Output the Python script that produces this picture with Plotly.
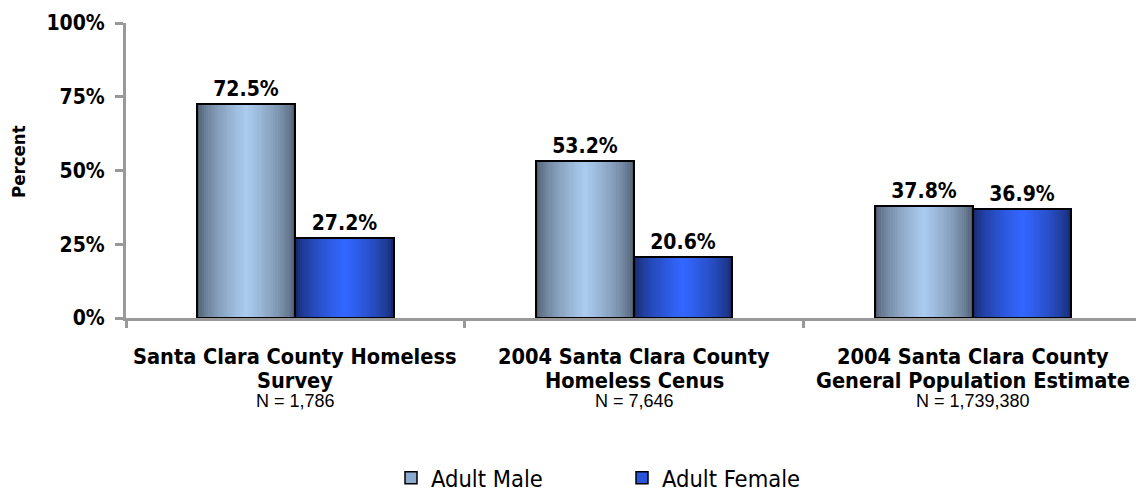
import plotly.graph_objects as go

categories = ["Santa Clara County Homeless Survey",
              "2004 Santa Clara County Homeless Cenus",
              "2004 Santa Clara County General Population Estimate"]
label_line1 = ["Santa Clara County Homeless", "2004 Santa Clara County", "2004 Santa Clara County"]
label_line2 = ["Survey", "Homeless Cenus", "General Population Estimate"]
n_labels = ["N = 1,786", "N = 7,646", "N = 1,739,380"]
series_names = ["Adult Male", "Adult Female"]
male = [72.5, 53.2, 37.8]
female = [27.2, 20.6, 36.9]
y_ticks = [0, 25, 50, 75, 100]
y_ticktext = ["0%", "25%", "50%", "75%", "100%"]

BOLD = "DejaVu Sans Condensed"
W = 0.29
NL = 22
CAT_PX = 338.75
PLOT_L = 126
PLOT_W = 1136 - PLOT_L

def rgb(c):
    return "rgb(%d,%d,%d)" % tuple(round(v) for v in c)

def lerp(c1, c2, t):
    return rgb([a + (b - a) * t for a, b in zip(c1, c2)])

grad = {
    "Adult Male": ((76, 90, 108), (170, 202, 238), (140, 170, 205)),
    "Adult Female": ((22, 40, 104), (51, 102, 255), (40, 85, 220)),
}

fig = go.Figure()
for name, vals, center in [("Adult Male", male, -W / 2), ("Adult Female", female, W / 2)]:
    edge, mid, leg = grad[name]
    for k in range(NL):
        w = W * (1 - k / NL)
        t = (k / (NL - 1)) ** 0.6
        fig.add_trace(go.Bar(
            x=categories, y=vals, width=w, offset=center - w / 2,
            marker=dict(color=lerp(edge, mid, t), line=dict(width=0)),
            showlegend=False, hoverinfo="skip"))
    fig.add_trace(go.Bar(
        x=categories, y=vals, width=W, offset=center - W / 2,
        marker=dict(color="rgba(0,0,0,0)", line=dict(color="black", width=2)),
        text=["%.1f%%" % v for v in vals], textposition="outside",
        textfont=dict(family=BOLD, size=21, color="black", weight="bold"),
        cliponaxis=False, showlegend=False, hoverinfo="skip"))
    fig.add_trace(go.Bar(
        x=[categories[0]], y=[None], name=name,
        marker=dict(color=rgb(leg), line=dict(color="black", width=1.5)),
        showlegend=True))

annotations = []
for i, c in enumerate(categories):
    annotations.append(dict(x=c, xref="x", y=0, yref="paper", yshift=-(356 - 318),
                            text="<b>%s</b>" % label_line1[i], showarrow=False, yanchor="middle",
                            font=dict(family=BOLD, size=21.6, color="black")))
    annotations.append(dict(x=c, xref="x", y=0, yref="paper", yshift=-(380 - 318),
                            text="<b>%s</b>" % label_line2[i], showarrow=False, yanchor="middle",
                            font=dict(family=BOLD, size=21.6, color="black")))
    annotations.append(dict(x=c, xref="x", y=0, yref="paper", yshift=-(401 - 318),
                            text=n_labels[i], showarrow=False, yanchor="middle",
                            font=dict(family="Liberation Sans", size=18, color="black")))
annotations.append(dict(x=0, xref="paper", xshift=-(PLOT_L - 18), xanchor="center",
                        y=(318 - 162) / 295, yref="paper", yanchor="middle",
                        text="<b>Percent</b>", textangle=-90, showarrow=False,
                        font=dict(family=BOLD, size=18.5, color="black")))

fig.update_layout(
    width=1136, height=494,
    margin=dict(l=PLOT_L, r=0, t=23, b=494 - 318, autoexpand=False),
    paper_bgcolor="white", plot_bgcolor="white",
    barmode="overlay", bargap=0,
    showlegend=True,
    legend=dict(orientation="h", x=(622 - PLOT_L) / PLOT_W, xanchor="center",
                y=(318 - 478) / 295, yanchor="middle",
                font=dict(family=BOLD, size=23.5, color="black"),
                entrywidth=186, entrywidthmode="pixels", traceorder="normal"),
    annotations=annotations,
    xaxis=dict(range=[-0.5, -0.5 + PLOT_W / CAT_PX], showticklabels=False, ticks="outside",
               tickson="boundaries", ticklen=7, tickwidth=3, tickcolor="#999999",
               showline=True, linecolor="#999999", linewidth=3, showgrid=False, zeroline=False,
               automargin=False),
    yaxis=dict(range=[0, 100], tickvals=y_ticks, ticktext=y_ticktext, ticks="outside",
               ticklen=8, tickwidth=3, tickcolor="#999999", showline=True, linecolor="#999999",
               linewidth=3, showgrid=False, zeroline=False, automargin=False,
               ticklabelstandoff=6,
               tickfont=dict(family=BOLD, size=21, color="black", weight="bold")),
)

fig.write_html("out.html", config={"displayModeBar": False},
               post_script="document.body.style.margin='0';")
